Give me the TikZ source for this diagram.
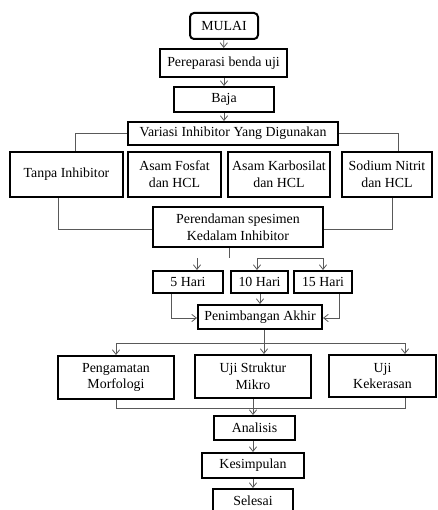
\documentclass[tikz,border=0pt]{standalone}
\usepackage{fontspec}
\setmainfont{Liberation Serif}
\usetikzlibrary{arrows.meta,calc}
\begin{document}
\begin{tikzpicture}[x=0.75pt,y=-0.75pt,
  bx/.style 2 args={draw=black, line width=1.5pt, fill=white, inner sep=0pt,
    minimum width=#1*0.75pt, minimum height=#2*0.75pt, align=center,
    font=\fontsize{10.4}{12.6}\selectfont},
  ln/.style={draw=black!65, line width=0.6pt},
  ar/.style={ln, -{Straight Barb[length=3.5pt,width=5.5pt]}}]
\useasboundingbox (0,0) rectangle (437,510);
% nodes
\node[bx={68}{26}, rounded corners=3pt] (mulai) at (224,26) {MULAI};
\node[bx={127}{28}] (prep) at (223.5,63) {Pereparasi benda uji};
\node[bx={100}{25}] (baja) at (224,99.5) {Baja};
\node[bx={210}{23}] (var) at (233,133.5) {Variasi Inhibitor Yang Digunakan};
\node[bx={113}{45}] (tanpa) at (66.5,174.5) {Tanpa Inhibitor};
\node[bx={93}{45}] (fosfat) at (174.5,174.5) {Asam Fosfat\\dan HCL};
\node[bx={102}{45}] (karbo) at (279,174.5) {Asam Karbosilat\\dan HCL};
\node[bx={90}{45}] (sodium) at (387,174.5) {Sodium Nitrit\\dan HCL};
\node[bx={170}{40}] (rendam) at (238,227) {Perendaman spesimen\\Kedalam Inhibitor};
\node[bx={70}{22}] (h5) at (188,282) {5 Hari};
\node[bx={57}{22}] (h10) at (259.5,282) {10 Hari};
\node[bx={58}{22}] (h15) at (323,282) {15 Hari};
\node[bx={124}{24}] (timbang) at (260,317) {Penimbangan Akhir};
\node[bx={116}{43}] (morf) at (116,377.5) {Pengamatan\\Morfologi};
\node[bx={116}{43}] (mikro) at (253,376.5) {Uji Struktur\\Mikro};
\node[bx={107}{42}] (keras) at (382.5,376) {Uji\\Kekerasan};
\node[bx={81}{24}] (analisis) at (254.5,428) {Analisis};
\node[bx={102}{25}] (kesimpulan) at (253,465.5) {Kesimpulan};
\node[bx={80}{24}] (selesai) at (253,501) {Selesai};
% named coordinates
\coordinate (stub) at (229,258);
\coordinate (b5) at (197,258);
\coordinate (b10) at (257,258);
\coordinate (b15) at (323,258);
\coordinate (busA) at (264,343);
\coordinate (busL) at (116,343);
\coordinate (busR) at (405,343);
\coordinate (busB) at (253,408);
% connectors
\draw[ar] (mulai) -- (prep);
\draw[ar] (prep.south -| baja) -- (baja);
\draw[ar] (baja.south) -- (baja.south |- var.north);
\draw[ln] (var.west) -| ($(tanpa.north)+(8.5,0)$);
\draw[ln] (var.east) -| ($(sodium.north)+(11,0)$);
\draw[ln] ($(tanpa.south)+(-8.5,0)$) |- ($(rendam.west)+(0,2)$);
\draw[ln] ($(sodium.south)+(5,0)$) |- ($(rendam.east)+(0,2)$);
\draw[ln] ($(fosfat.south)+(-2.5,0)$) -- ($(fosfat.south)+(-2.5,0)$ |- rendam.north);
\draw[ln] ($(karbo.south)+(2,0)$) -- ($(karbo.south)+(2,0)$ |- rendam.north);
\draw[ln] (rendam.south -| stub) -- (stub);
\draw[ar] (b5) -- (b5 |- h5.north);
\draw[ar] (b10) -- (b15) -- (b15 |- h15.north);
\draw[ar] (b10) -- (b10 |- h10.north);
\draw[ar] ($(h5.south)+(-17,0)$) |- ($(timbang.west)+(0,1)$);
\draw[ar] (h10.south -| timbang) -- (timbang.north);
\draw[ar] ($(h15.south)+(16,0)$) |- ($(timbang.east)+(0,1)$);
\draw[ln] (timbang.south -| busA) -- (busA);
\draw[ln] (busL) -- (busR);
\draw[ar] (busA) -- (busA |- mikro.north);
\draw[ar] (busL) -- (busL |- morf.north);
\draw[ar] (busR) -- (busR |- keras.north);
\draw[ln] (morf.south) |- (busB);
\draw[ln] (keras.south -| busR) |- (busB);
\draw[ar] (mikro.south -| busB) -- (busB |- analisis.north);
\draw[ar] (analisis.south -| kesimpulan) -- (kesimpulan.north);
\draw[ar] (kesimpulan) -- (selesai);
\end{tikzpicture}
\end{document}
